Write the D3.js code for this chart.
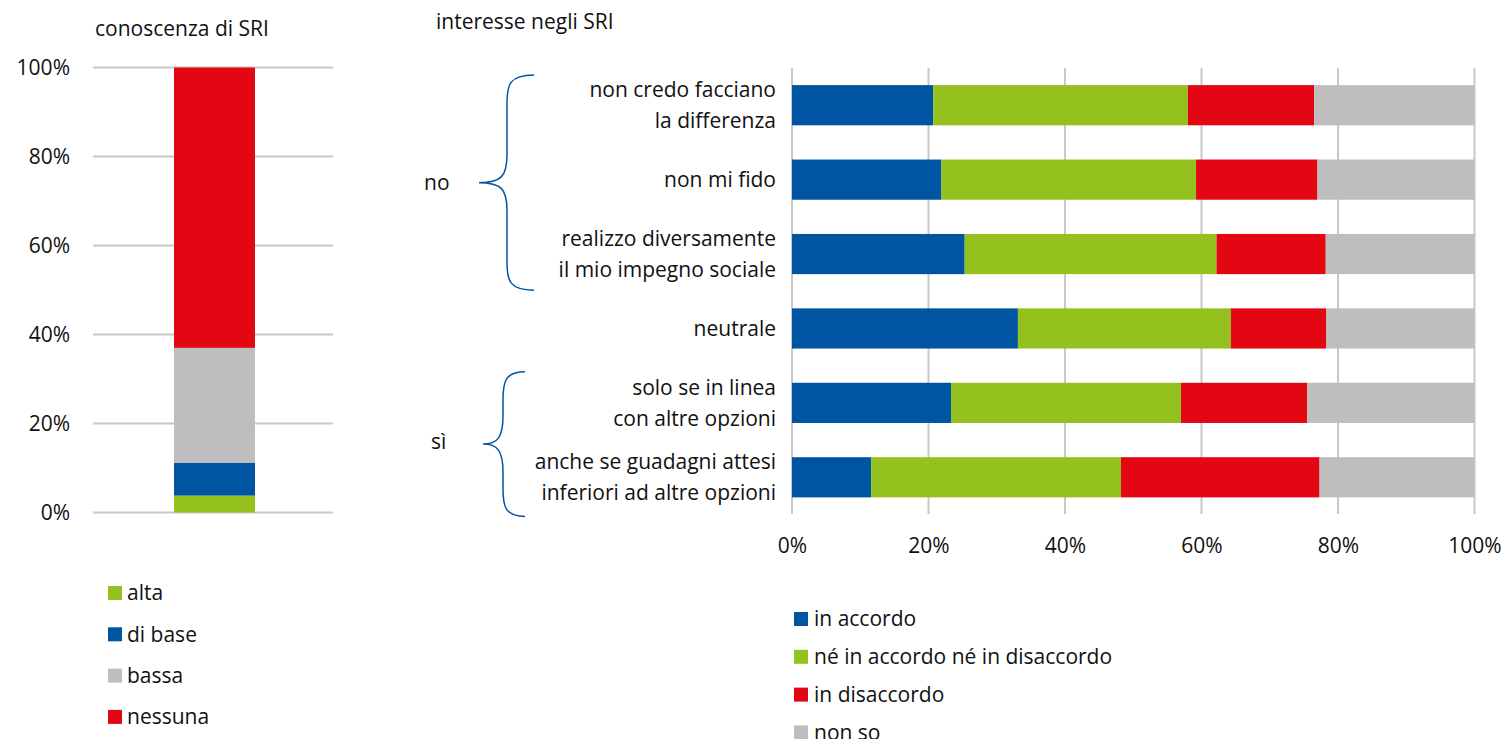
<!DOCTYPE html>
<html>
<head>
<meta charset="utf-8">
<script src="https://cdn.jsdelivr.net/npm/d3@7"></script>
<style>
  body { margin: 0; background: #fff; }
  svg text { font-family: "Open Sans", "DejaVu Sans", sans-serif; fill: #111; }
</style>
</head>
<body>
<svg id="chart" width="1506" height="739"></svg>
<script>
// left chart: conoscenza di SRI
var knowCats = ["alta", "di base", "bassa", "nessuna"];
var knowValues = [3.8, 7.4, 25.8, 63.0];
var knowColors = ["#95c11f", "#0055a3", "#bebebe", "#e30613"];

// right chart: interesse negli SRI
var rowLabels = [
  ["non credo facciano", "la differenza"],
  ["non mi fido"],
  ["realizzo diversamente", "il mio impegno sociale"],
  ["neutrale"],
  ["solo se in linea", "con altre opzioni"],
  ["anche se guadagni attesi", "inferiori ad altre opzioni"]
];
var seriesNames = ["in accordo", "né in accordo né in disaccordo", "in disaccordo", "non so"];
var seriesColors = ["#0055a3", "#95c11f", "#e30613", "#bebebe"];
var inAccordo    = [20.7, 21.9, 25.3, 33.1, 23.3, 11.6];
var neNe         = [37.3, 37.3, 36.9, 31.2, 33.7, 36.6];
var inDisaccordo = [18.5, 17.8, 16.0, 14.0, 18.5, 29.1];
var nonSo        = [23.5, 23.0, 21.8, 21.7, 24.5, 22.7];
var groups = [{ label: "no", from: 0, to: 2 }, { label: "sì", from: 4, to: 5 }];
var pctTicks = [0, 20, 40, 60, 80, 100];

var svg = d3.select("#chart");
var gridColor = "#c8c8c8";
var fs = "21px";

//--- left stacked column
var yL = d3.scaleLinear().domain([0, 100]).range([512.5, 67.5]);
var left = svg.append("g");

left.selectAll("line.grid").data(pctTicks).enter().append("line")
  .attr("x1", 93).attr("x2", 333)
  .attr("y1", function (d) { return yL(d); }).attr("y2", function (d) { return yL(d); })
  .attr("stroke", gridColor).attr("stroke-width", 2);

left.selectAll("text.tick").data(pctTicks).enter().append("text")
  .attr("x", 70).attr("y", function (d) { return yL(d); })
  .attr("dy", "0.35em").attr("text-anchor", "end")
  .style("font-size", fs)
  .text(function (d) { return d + "%"; });

var cum = 0;
var knowStack = knowValues.map(function (v, i) {
  var s = { y0: cum, y1: cum + v, color: knowColors[i] };
  cum += v;
  return s;
});
left.selectAll("rect").data(knowStack).enter().append("rect")
  .attr("x", 174).attr("width", 81)
  .attr("y", function (d) { return yL(d.y1); })
  .attr("height", function (d) { return yL(d.y0) - yL(d.y1); })
  .attr("fill", function (d) { return d.color; });

svg.append("text").attr("x", 95).attr("y", 36)
  .style("font-size", fs).text("conoscenza di SRI");

var legL = svg.append("g").selectAll("g").data(knowCats).enter().append("g")
  .attr("transform", function (d, i) { return "translate(108," + (593 + i * 41.3) + ")"; });
legL.append("rect").attr("x", 0).attr("y", -7).attr("width", 14).attr("height", 14)
  .attr("fill", function (d, i) { return knowColors[i]; });
legL.append("text").attr("x", 19).attr("dy", "0.35em")
  .style("font-size", fs).text(function (d) { return d; });

//--- right stacked bars
var x = d3.scaleLinear().domain([0, 100]).range([792, 1474.5]);
var y = d3.scaleBand().domain(d3.range(rowLabels.length)).range([68, 514.5]).paddingInner(0.46).paddingOuter(0.23);
var right = svg.append("g");

right.selectAll("line.grid").data(pctTicks).enter().append("line")
  .attr("x1", function (d) { return x(d); }).attr("x2", function (d) { return x(d); })
  .attr("y1", 68).attr("y2", 514)
  .attr("stroke", gridColor).attr("stroke-width", 2);

var xAxis = d3.axisBottom(x).tickValues(pctTicks).tickSize(0).tickFormat(function (d) { return d + "%"; });
var ax = right.append("g").attr("transform", "translate(0,535)").call(xAxis);
ax.select(".domain").remove();
ax.selectAll("text").style("font-size", fs).style("font-family", "'Open Sans', sans-serif").attr("fill", "#111");

var series = [inAccordo, neNe, inDisaccordo, nonSo];
var rows = rowLabels.map(function (l, i) {
  var o = { i: i };
  seriesNames.forEach(function (s, k) { o[s] = series[k][i]; });
  return o;
});
var stacked = d3.stack().keys(seriesNames)(rows);

right.selectAll("g.series").data(stacked).enter().append("g")
  .attr("fill", function (d, k) { return seriesColors[k]; })
  .selectAll("rect").data(function (d) { return d; }).enter().append("rect")
  .attr("x", function (d) { return x(d[0]); })
  .attr("width", function (d) { return x(Math.min(d[1], 100)) - x(d[0]); })
  .attr("y", function (d) { return y(d.data.i); })
  .attr("height", y.bandwidth());

// category labels
var lineH = 31;
right.selectAll("text.cat").data(rowLabels).enter().append("text")
  .attr("text-anchor", "end")
  .style("font-size", fs)
  .each(function (lines, i) {
    var t = d3.select(this);
    var cy = y(i) + y.bandwidth() / 2;
    lines.forEach(function (ln, j) {
      t.append("tspan").attr("x", 776)
        .attr("y", cy + (j - (lines.length - 1) / 2) * lineH)
        .attr("dy", "0.35em").text(ln);
    });
  });

// braces for groups
groups.forEach(function (g, gi) {
  var top = y(g.from) - (gi === 0 ? 10 : 11);
  var bot = y(g.to) + y.bandwidth() + (gi === 0 ? 16 : 19);
  var mid = (top + bot) / 2;
  var xr = gi === 0 ? 534 : 525, xm = gi === 0 ? 507 : 503, xt = gi === 0 ? 479 : 483;
  var r = 28;
  var p = d3.path();
  p.moveTo(xr, top);
  p.bezierCurveTo(xm + 2, top, xm, top + 10, xm, top + r);
  p.lineTo(xm, mid - r);
  p.bezierCurveTo(xm, mid - 6, xm - 6, mid, xt, mid);
  p.bezierCurveTo(xm - 6, mid, xm, mid + 6, xm, mid + r);
  p.lineTo(xm, bot - r);
  p.bezierCurveTo(xm, bot - 10, xm + 2, bot, xr, bot);
  svg.append("path").attr("d", p.toString())
    .attr("fill", "none").attr("stroke", "#0055a3").attr("stroke-width", 1.5);
  svg.append("text").attr("x", gi === 0 ? 424 : 431).attr("y", mid - (gi === 0 ? 0 : 2))
    .attr("dy", "0.35em").style("font-size", fs).text(g.label);
});

svg.append("text").attr("x", 436).attr("y", 29)
  .style("font-size", fs).text("interesse negli SRI");

var legR = svg.append("g").selectAll("g").data(seriesNames).enter().append("g")
  .attr("transform", function (d, i) { return "translate(794," + (619 + i * 37.8) + ")"; });
legR.append("rect").attr("x", 0).attr("y", -7).attr("width", 14).attr("height", 14)
  .attr("fill", function (d, i) { return seriesColors[i]; });
legR.append("text").attr("x", 20).attr("dy", "0.35em")
  .style("font-size", fs).text(function (d) { return d; });
</script>
</body>
</html>
